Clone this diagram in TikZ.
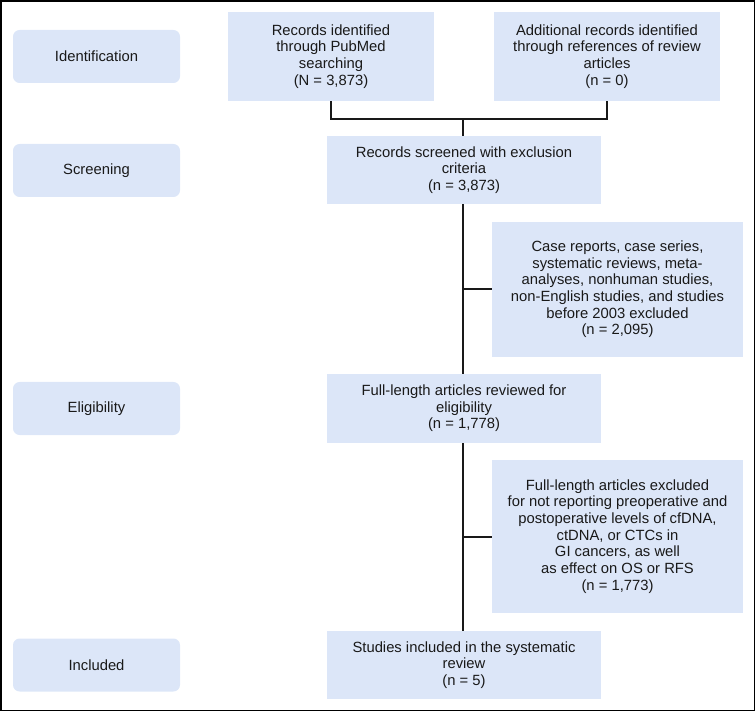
\documentclass[tikz,border=0pt]{standalone}
\usepackage{fontspec}
\setmainfont{Liberation Sans}
\definecolor{boxfill}{RGB}{220,230,248}
\begin{document}
\begin{tikzpicture}[x=0.75pt,y=-0.75pt,
  every node/.style={font=\fontsize{11.1}{12.5}\selectfont, text=black!90, align=center, inner sep=0pt},
  stage/.style={fill=boxfill, rounded corners=5pt, minimum width=167*0.75pt, minimum height=53*0.75pt},
  mainbox/.style={fill=boxfill, minimum width=274*0.75pt},
  conn/.style={draw=black!90, line width=1.5pt}]
\useasboundingbox (0,0) rectangle (756,712);
\draw[line width=1.1pt] (1,1) rectangle (754.5,710.5);
% stages
\node[stage] (sid) at (96.5,56.5) {Identification};
\node[stage] (sscr) at (96.5,170.5) {Screening};
\node[stage] (seli) at (96.5,408.5) {Eligibility};
\node[stage] (sinc) at (96.5,665) {Included};
% main boxes
\node[fill=boxfill, minimum width=206*0.75pt, minimum height=89*0.75pt] (rec) at (331,56.5)
  {Records identified\\through PubMed\\searching\\(N = 3,873)};
\node[fill=boxfill, minimum width=226*0.75pt, minimum height=89*0.75pt] (add) at (607,56.5)
  {Additional records identified\\through references of review\\articles\\(n = 0)};
\node[mainbox, minimum height=68*0.75pt] (scr) at (464,170)
  {Records screened with exclusion\\criteria\\(n = 3,873)};
\node[fill=boxfill, minimum width=251*0.75pt, minimum height=135*0.75pt] (ex1) at (617.5,289.5)
  {Case reports, case series,\\systematic reviews, meta-\\analyses, nonhuman studies,\\non-English studies, and studies\\before 2003 excluded\\(n = 2,095)};
\node[mainbox, minimum height=69*0.75pt] (full) at (464,408.5)
  {Full-length articles reviewed for\\eligibility\\(n = 1,778)};
\node[fill=boxfill, minimum width=251*0.75pt, minimum height=153*0.75pt] (ex2) at (617.5,536.5)
  {Full-length articles excluded\\for not reporting preoperative and\\postoperative levels of cfDNA,\\ctDNA, or CTCs in\\GI cancers, as well\\as effect on OS or RFS\\(n = 1,773)};
\node[mainbox, minimum height=68*0.75pt] (inc) at (464,665)
  {Studies included in the systematic\\review\\(n = 5)};
% connectors
\coordinate (j) at (463,119);
\draw[conn] (rec.south) |- (j) -| (add.south);
\draw[conn] (j) -- (j |- scr.north);
\draw[conn] (j |- scr.south) -- (j |- full.north);
\draw[conn] (j |- ex1.west) -- (ex1.west);
\draw[conn] (j |- full.south) -- (j |- inc.north);
\draw[conn] (j |- ex2.west) -- (ex2.west);
\end{tikzpicture}
\end{document}
